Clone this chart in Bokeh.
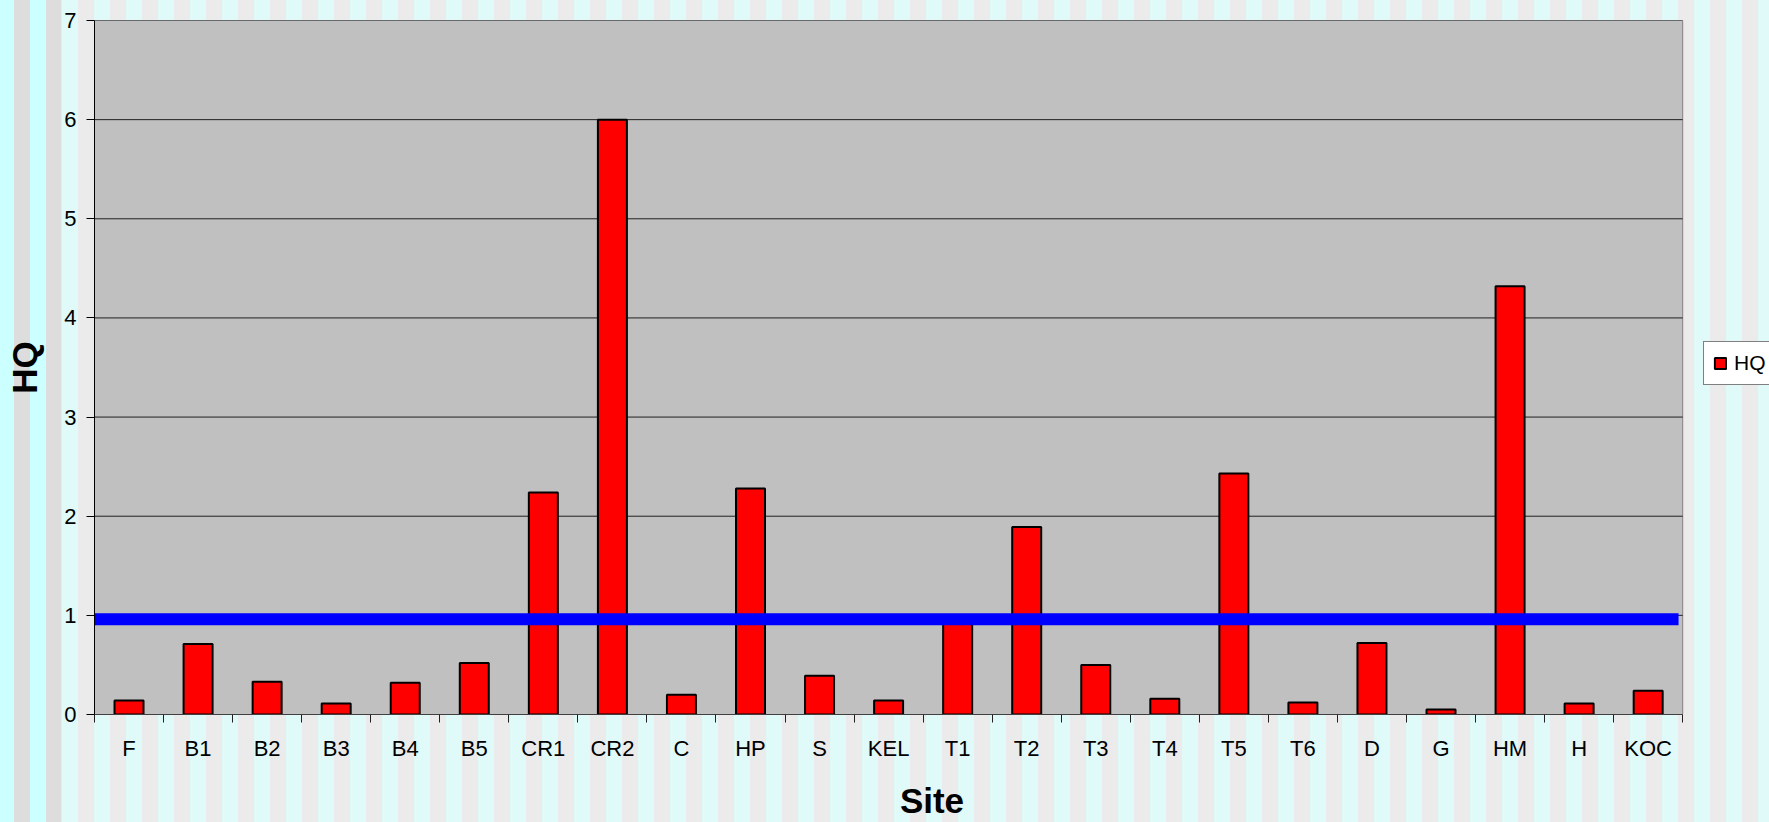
from bokeh.plotting import figure
from bokeh.models import Range1d, FixedTicker, Legend, LegendItem, ColumnDataSource
from bokeh.embed import file_html
from bokeh.resources import INLINE

sites = ["F", "B1", "B2", "B3", "B4", "B5", "CR1", "CR2", "C", "HP", "S", "KEL",
         "T1", "T2", "T3", "T4", "T5", "T6", "D", "G", "HM", "H", "KOC"]
hq = [0.14, 0.71, 0.33, 0.11, 0.32, 0.52, 2.24, 6.00, 0.20, 2.28, 0.39, 0.14,
      0.97, 1.89, 0.50, 0.16, 2.43, 0.12, 0.72, 0.05, 4.32, 0.11, 0.24]
y_ticks = [0, 1, 2, 3, 4, 5, 6, 7]
y_max = 7
threshold = 0.96
threshold_end = 22.94

n = len(sites)
centers = [i + 0.5 for i in range(n)]
bounds = list(range(n + 1))

FONT = "Liberation Sans"

# frame spans to the right edge so that the legend can sit right of the plot area
x_end = (1769 - 94) / (1588.2 / n)

p = figure(width=1769, height=822, x_range=Range1d(0, x_end), y_range=Range1d(0, y_max),
           output_backend="svg", toolbar_location=None,
           min_border_left=94, min_border_right=0, min_border_top=20, min_border_bottom=107)

p.border_fill_color = None
p.background_fill_color = None
p.outline_line_color = None
p.styles = {
    "background": ("linear-gradient(90deg, #CCFFFF 0px, #CCFFFF 14px, #DDDDDD 14px, #DDDDDD 30px, "
                   "#CCFFFF 30px, #CCFFFF 46px, #DDDDDD 46px, #DDDDDD 61px, transparent 61px), "
                   "repeating-linear-gradient(90deg, #E0FAFA 0px, #E0FAFA 14px, #EBEBEB 14px, "
                   "#EBEBEB 30px, #E0FAFA 30px, #E0FAFA 32px)")
}

# plot area
p.quad(left=[0], right=[n], bottom=[0], top=[y_max], fill_color="#C0C0C0",
       line_color="#808080", line_width=1, level="image")

# horizontal gridlines limited to the plot area
grid_y = [t for t in y_ticks if t > 0]
p.segment(x0=[0] * len(grid_y), x1=[n] * len(grid_y), y0=grid_y, y1=grid_y,
          line_color="#202020", line_width=1, level="underlay")
p.xgrid.visible = False
p.ygrid.visible = False

src = ColumnDataSource(dict(x=centers, top=hq, site=sites))
bars = p.vbar(x="x", top="top", width=0.42, source=src, fill_color="#FF0000",
              line_color="#000000", line_width=2)

p.segment(x0=[0], y0=[threshold], x1=[threshold_end], y1=[threshold],
          line_color="#0000FF", line_width=12, line_cap="butt")

# y axis
p.yaxis.ticker = FixedTicker(ticks=y_ticks)
p.yaxis.axis_line_color = "#000000"
p.yaxis.axis_line_width = 1
p.yaxis.major_tick_out = 8
p.yaxis.major_tick_in = 0
p.yaxis.minor_tick_line_color = None
p.yaxis.major_tick_line_color = "#000000"
p.yaxis.major_label_standoff = 10
p.yaxis.major_label_text_font = FONT
p.yaxis.major_label_text_font_size = "22px"
p.yaxis.major_label_text_color = "#000000"
p.yaxis.axis_label = "HQ"
p.yaxis.axis_label_text_font = FONT
p.yaxis.axis_label_text_font_size = "35px"
p.yaxis.axis_label_text_font_style = "bold"
p.yaxis.axis_label_text_color = "#000000"
p.yaxis.axis_label_standoff = 17

# x axis
p.xaxis.ticker = FixedTicker(ticks=centers, minor_ticks=bounds)
p.xaxis.bounds = (0, n)
p.xaxis.major_label_overrides = {c: s for c, s in zip(centers, sites)}
p.xaxis.axis_line_color = "#404040"
p.xaxis.axis_line_width = 1
p.xaxis.major_tick_line_color = None
p.xaxis.major_tick_out = 0
p.xaxis.major_tick_in = 0
p.xaxis.minor_tick_line_color = "#202020"
p.xaxis.minor_tick_out = 8
p.xaxis.minor_tick_in = 0
p.xaxis.major_label_standoff = 13
p.xaxis.major_label_text_font = FONT
p.xaxis.major_label_text_font_size = "22px"
p.xaxis.major_label_text_color = "#000000"
p.xaxis.axis_label = "Site"
p.xaxis.axis_label_text_font = FONT
p.xaxis.axis_label_text_font_size = "35px"
p.xaxis.axis_label_text_font_style = "bold"
p.xaxis.axis_label_text_color = "#000000"
p.xaxis.axis_label_standoff = 17

legend = Legend(items=[LegendItem(label="HQ", renderers=[bars])], location=(1609, 329),
                orientation="vertical")
legend.label_text_font = FONT
legend.label_text_font_size = "21px"
legend.label_text_color = "#000000"
legend.glyph_width = 14
legend.glyph_height = 14
legend.padding = 9
legend.label_standoff = 7
legend.margin = 0
legend.border_line_color = "#000000"
legend.border_line_width = 1
legend.background_fill_color = "#FFFFFF"
legend.background_fill_alpha = 1
p.add_layout(legend, "center")

open("out.html", "w").write(file_html(p, INLINE))
